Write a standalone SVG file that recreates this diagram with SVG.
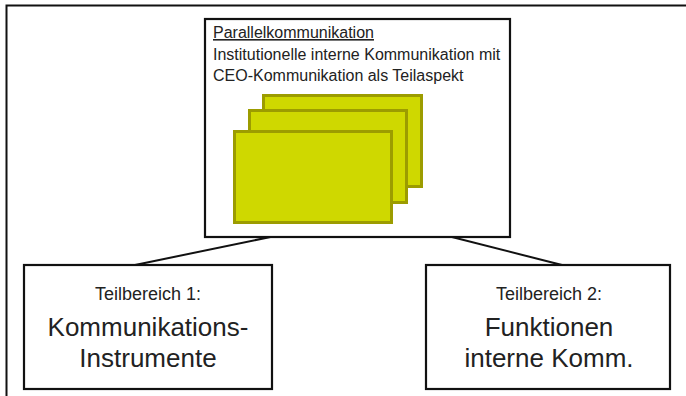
<svg xmlns="http://www.w3.org/2000/svg" width="686" height="396" viewBox="0 0 686 396">
<style>
.box{fill:#fff;stroke:#111;stroke-width:2.2}
.card{fill:#cfd800;stroke:#9c9c00;stroke-width:3}
.t{font-family:"Liberation Sans",Arial,sans-serif;fill:#222}
.s{font-size:16px}
.m{font-size:18px;text-anchor:middle}
.l{font-size:26px;text-anchor:middle}
.conn{stroke:#111;stroke-width:2;fill:none}
</style>
<rect width="686" height="396" fill="#fff"/>
<rect x="6.5" y="5.5" width="700" height="420" fill="none" stroke="#111" stroke-width="2"/>
<g id="connectors">
<line class="conn" x1="280" y1="235" x2="135" y2="265"/>
<line class="conn" x1="444" y1="235" x2="562" y2="265"/>
</g>
<g id="main">
<rect class="box" x="205" y="19" width="305" height="218"/>
<text class="t s" x="213" y="38" text-decoration="underline">Parallelkommunikation</text>
<text class="t s" x="213" y="60">Institutionelle interne Kommunikation mit</text>
<text class="t s" x="213" y="81">CEO-Kommunikation als Teilaspekt</text>
<rect class="card" x="263.5" y="95.5" width="158" height="91"/>
<rect class="card" x="249.5" y="110.5" width="157" height="92"/>
<rect class="card" x="234.5" y="131.5" width="157" height="91"/>
</g>
<g id="teil1">
<rect class="box" x="24" y="265" width="248" height="124"/>
<text class="t m" x="148" y="300">Teilbereich 1:</text>
<text class="t l" x="148" y="336">Kommunikations-</text>
<text class="t l" x="148" y="367">Instrumente</text>
</g>
<g id="teil2">
<rect class="box" x="426" y="265" width="244" height="124"/>
<text class="t m" x="549" y="300">Teilbereich 2:</text>
<text class="t l" x="549" y="336">Funktionen</text>
<text class="t l" x="549" y="367">interne Komm.</text>
</g>
</svg>
